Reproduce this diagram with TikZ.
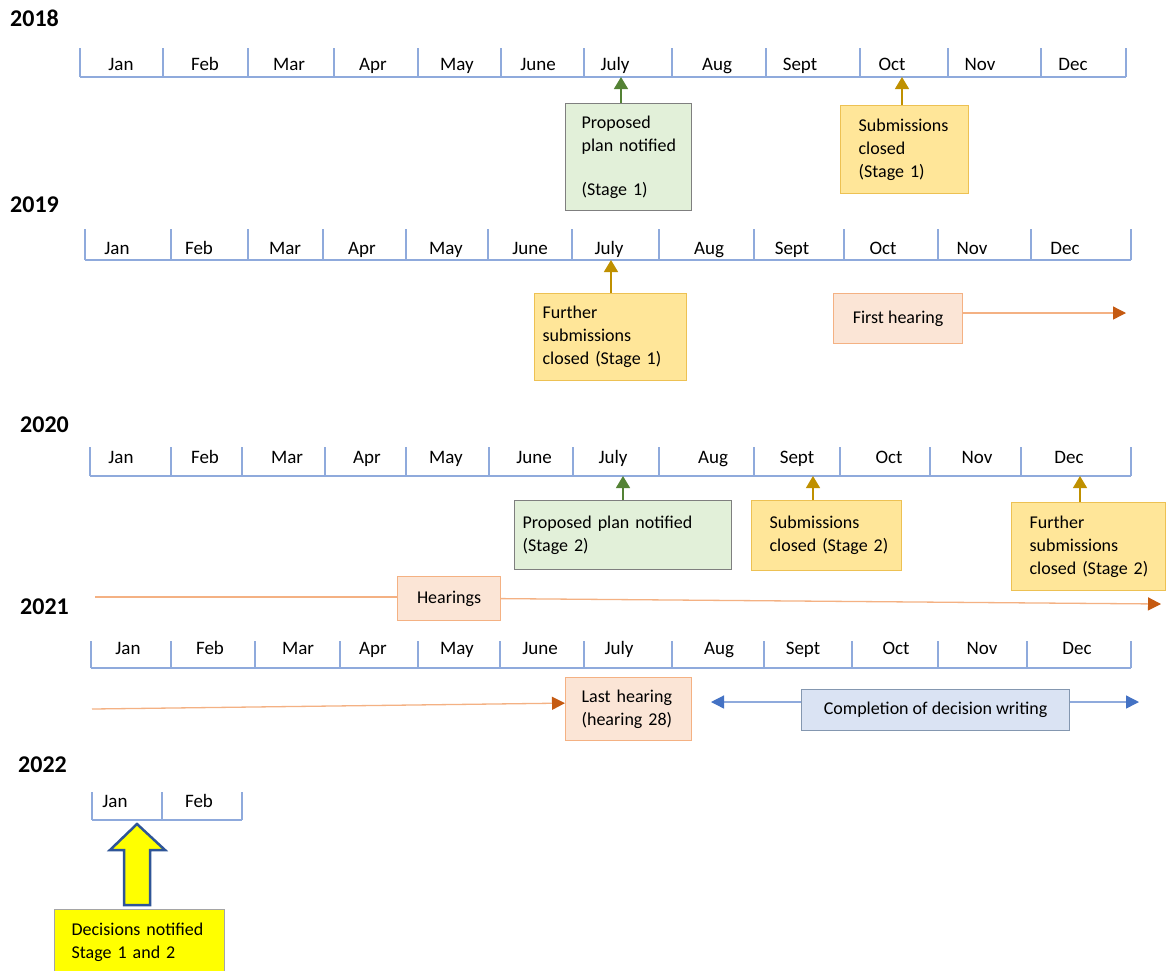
\documentclass[tikz,border=0pt]{standalone}
\usepackage{fontspec}
\setmainfont{Carlito}
\usepackage{tikz}
\usetikzlibrary{arrows.meta,positioning}
\definecolor{lineBlue}{HTML}{8FAADC}
\definecolor{tipBlue}{HTML}{4472C4}
\definecolor{fillBlue}{HTML}{DAE3F3}
\definecolor{edgeBlue}{HTML}{8497B0}
\definecolor{fillGreen}{HTML}{E2F0D9}
\definecolor{tipGreen}{HTML}{548235}
\definecolor{edgeGrey}{HTML}{7F7F7F}
\definecolor{fillGold}{HTML}{FFE699}
\definecolor{edgeGold}{HTML}{EDC153}
\definecolor{tipGold}{HTML}{BF9000}
\definecolor{fillPeach}{HTML}{FBE5D6}
\definecolor{edgePeach}{HTML}{F4B183}
\definecolor{tipOrange}{HTML}{C55A11}
\definecolor{edgeNavy}{HTML}{2F5597}
\definecolor{brightYellow}{HTML}{FFFF00}
\definecolor{edgeOlive}{HTML}{A5A5A5}

\begin{document}
\begin{tikzpicture}[
    x=1pt,y=-1pt,
    tline/.style={lineBlue,line width=1.2pt},
    yearlbl/.style={anchor=west,inner sep=0pt,font=\fontsize{24}{28}\selectfont\bfseries},
    monlbl/.style={anchor=base,inner sep=0pt,font=\fontsize{19}{22}\selectfont},
    evbox/.style={rectangle,anchor=north west,align=left,inner ysep=0pt,line width=1.2pt,
      font=\fontsize{18}{23}\selectfont,
      execute at begin node={\hyphenpenalty=10000\exhyphenpenalty=10000\hbadness=10000\hfuzz=50pt}},
    greenbox/.style={evbox,fill=fillGreen,draw=edgeGrey},
    goldbox/.style={evbox,fill=fillGold,draw=edgeGold},
    peachbox/.style={evbox,fill=fillPeach,draw=edgePeach},
    bluebox/.style={evbox,fill=fillBlue,draw=edgeBlue},
    upgreen/.style={tipGreen,line width=1.3pt,-{Triangle[length=12pt,width=14pt]}},
    upgold/.style={tipGold,line width=1.3pt,-{Triangle[length=12pt,width=14pt]}},
    hearrule/.style={edgePeach,line width=1.3pt},
    hearline/.style={hearrule,-{Triangle[length=13pt,width=13pt,color=tipOrange]}},
    writeline/.style={lineBlue,line width=1.3pt,-{Triangle[length=13pt,width=13pt,color=tipBlue]}}
  ]
  \useasboundingbox (0,0) rectangle (1166,970);
  \fill[white] (0,0) rectangle (1166,970);
  \clip (0,0) rectangle (1166,970);

  %% 2018
  \node[yearlbl] (yr18) at (10,18) {2018};
  \draw[tline] (80,77) -- (1126,77);
  \foreach \x in {80,163,248,334,418,501,584,672,766,860,948,1041,1126}
    \draw[tline] (\x,48) -- (\x,77);
  \foreach \m/\x [count=\i] in {Jan/121,Feb/205,Mar/289,Apr/373,May/457,June/538,
      July/615,Aug/717,Sept/800,Oct/892,Nov/980,Dec/1073}
    \node[monlbl] (m18-\i) at (\x,70) {\m};
  \node[greenbox,minimum width=126pt,minimum height=107pt,text width=94pt,inner xsep=16pt]
    (plan18) at (565,103) {Proposed\\plan~notified\\[21pt](Stage~1)};
  \node[goldbox,minimum width=128pt,minimum height=88pt,text width=92pt,inner xsep=18pt]
    (subm18) at (840,105) {Submissions\\closed\\(Stage~1)};
  \coordinate (t18jul) at (621,77);
  \coordinate (t18oct) at (902,77);
  \draw[upgreen] (t18jul |- plan18.north) -- (t18jul);
  \draw[upgold] (t18oct |- subm18.north) -- (t18oct);

  %% 2019
  \node[yearlbl] (yr19) at (10,205) {2019};
  \draw[tline] (85,260) -- (1131,260);
  \foreach \x in {85,171,248,323,406,488,572,659,754,844,938,1031,1131}
    \draw[tline] (\x,229) -- (\x,260);
  \foreach \m/\x [count=\i] in {Jan/117,Feb/199,Mar/285,Apr/362,May/446,June/530,
      July/609,Aug/709,Sept/792,Oct/883,Nov/972,Dec/1065}
    \node[monlbl] (m19-\i) at (\x,254) {\m};
  \node[goldbox,minimum width=152pt,minimum height=87pt,text width=136pt,inner xsep=8pt]
    (subm19) at (534,293) {Further\\submissions\\closed~(Stage~1)};
  \node[peachbox,align=center,minimum width=129pt,minimum height=50pt]
    (hear19) at (833,293) {First hearing};
  \coordinate (t19jul) at (611,260);
  \coordinate (hear19end) at (1126,313);
  \draw[upgold] (t19jul |- subm19.north) -- (t19jul);
  \draw[hearline] (hear19.east |- hear19end) -- (hear19end);

  %% 2020
  \node[yearlbl] (yr20) at (20,425) {2020};
  \draw[tline] (90,476) -- (1131,476);
  \foreach \x in {90,171,242,325,406,489,573,659,754,840,930,1021,1131}
    \draw[tline] (\x,447) -- (\x,476);
  \foreach \m/\x [count=\i] in {Jan/121,Feb/205,Mar/287,Apr/367,May/446,June/534,
      July/613,Aug/713,Sept/797,Oct/889,Nov/977,Dec/1069}
    \node[monlbl] (m20-\i) at (\x,463) {\m};
  \node[greenbox,minimum width=217pt,minimum height=69pt,text width=201pt,inner xsep=8pt]
    (plan20) at (514,500) {Proposed~plan~notified\\(Stage~2)};
  \node[goldbox,minimum width=150pt,minimum height=70pt,text width=114pt,inner xsep=18pt]
    (subm20) at (751,500) {Submissions\\closed~(Stage~2)};
  \node[goldbox,minimum width=154pt,minimum height=88pt,text width=118pt,inner xsep=18pt]
    (fsub20) at (1011,502) {Further\\submissions\\closed~(Stage~2)};
  \coordinate (t20jul) at (623,476);
  \coordinate (t20sep) at (813,476);
  \coordinate (t20dec) at (1080,476);
  \draw[upgreen] (t20jul |- plan20.north) -- (t20jul);
  \draw[upgold] (t20sep |- subm20.north) -- (t20sep);
  \draw[upgold] (t20dec |- fsub20.north) -- (t20dec);
  \node[peachbox,align=center,minimum width=103pt,minimum height=44pt]
    (hear20) at (397,576) {Hearings};
  \coordinate (hear20start) at (95,597);
  \coordinate (hear20end) at (1161,604);
  \draw[hearrule] (hear20start) -- (hear20.west |- hear20start);
  \draw[hearline] (hear20.east) -- (hear20end);

  %% 2021
  \node[yearlbl] (yr21) at (20,607) {2021};
  \draw[tline] (91,668) -- (1131,668);
  \foreach \x in {91,171,255,340,418,500,584,672,764,852,938,1027,1131}
    \draw[tline] (\x,641) -- (\x,668);
  \foreach \m/\x [count=\i] in {Jan/128,Feb/210,Mar/298,Apr/373,May/457,June/540,
      July/619,Aug/719,Sept/803,Oct/896,Nov/982,Dec/1077}
    \node[monlbl] (m21-\i) at (\x,654) {\m};
  \node[peachbox,minimum width=126pt,minimum height=63pt,text width=94pt,inner xsep=16pt]
    (last21) at (565,677) {Last~hearing\\(hearing~28)};
  \node[bluebox,align=center,minimum width=268pt,minimum height=41pt]
    (write21) at (801,689) {Completion of decision writing};
  \coordinate (hear21start) at (92,709);
  \coordinate (write21l) at (711,702);
  \coordinate (write21r) at (1139,702);
  \draw[hearline] (hear21start) -- ([yshift=6pt]last21.west);
  \draw[writeline] (write21.west |- write21l) -- (write21l);
  \draw[writeline] (write21.east |- write21r) -- (write21r);

  %% 2022
  \node[yearlbl] (yr22) at (18,765) {2022};
  \draw[tline] (92,820) -- (242,820);
  \foreach \x in {92,162,242}
    \draw[tline] (\x,792) -- (\x,820);
  \foreach \m/\x [count=\i] in {Jan/115,Feb/199}
    \node[monlbl] (m22-\i) at (\x,807) {\m};
  \draw[edgeNavy,fill=brightYellow,line width=2.5pt,line join=miter]
    (137,824) -- (165,850) -- (150,850) -- (150,905) -- (124,905) -- (124,850) -- (110,850) -- cycle;
  \node[evbox,fill=brightYellow,draw=edgeOlive,minimum width=170pt,minimum height=65pt,
    text width=136pt,inner xsep=17pt] (decide22) at (54,909) {Decisions~notified\\Stage~1~and~2};
\end{tikzpicture}
\end{document}
